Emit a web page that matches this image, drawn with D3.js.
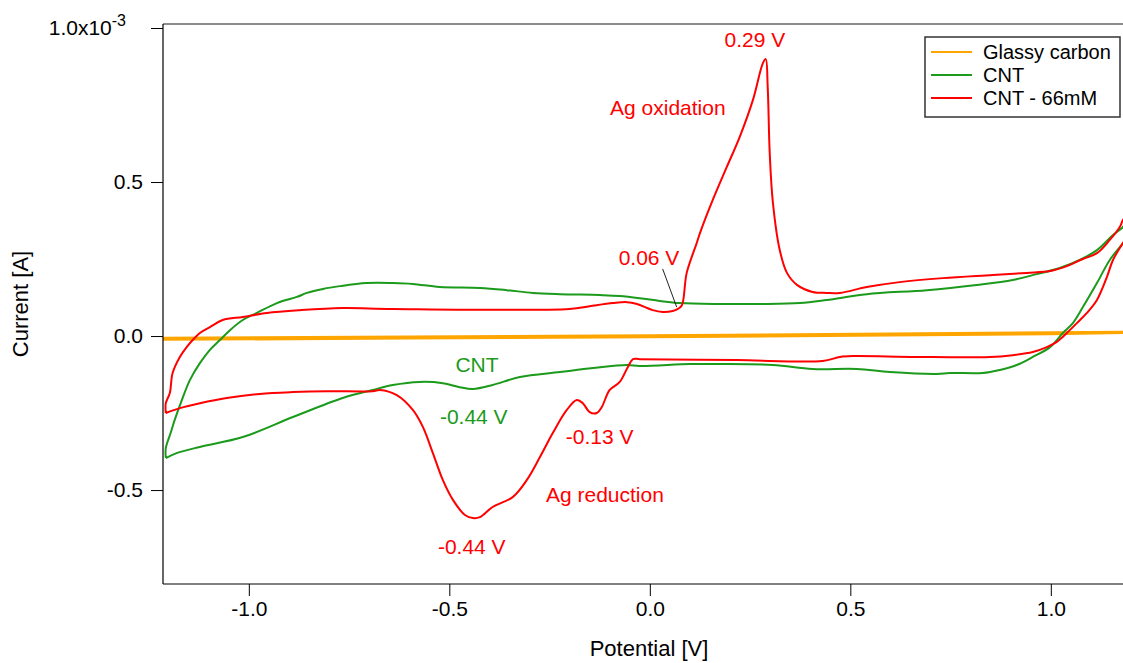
<!DOCTYPE html>
<html>
<head>
<meta charset="utf-8">
<script src="https://cdn.jsdelivr.net/npm/d3@7"></script>
<style>
  html, body { margin: 0; padding: 0; background: #fff; }
  svg { display: block; font-family: "Liberation Sans", Arial, sans-serif; }
</style>
</head>
<body>
<svg id="chart" width="1123" height="663"></svg>
<script>
// Cyclic voltammograms: potential [V] vs current [10^-3 A]
const glassyCarbon = [
  [-1.214, -0.012], [-0.6, -0.008], [0.0, -0.004], [0.6, 0.002], [1.0, 0.006], [1.19, 0.010],
  [1.19, 0.014], [0.6, 0.008], [0.0, 0.002], [-0.6, -0.002], [-1.214, -0.006]
];

const cnt = [
  [-1.207, -0.396], [-1.207, -0.364], [-1.195, -0.315], [-1.185, -0.273], [-1.167, -0.208],
  [-1.147, -0.143], [-1.122, -0.088], [-1.097, -0.045], [-1.072, -0.013], [-1.047, 0.019],
  [-1.015, 0.052], [-0.980, 0.075], [-0.930, 0.107], [-0.880, 0.127], [-0.855, 0.140],
  [-0.815, 0.153], [-0.773, 0.162], [-0.706, 0.172], [-0.641, 0.172], [-0.591, 0.169],
  [-0.524, 0.159], [-0.424, 0.156], [-0.357, 0.149], [-0.292, 0.140], [-0.224, 0.136],
  [-0.125, 0.133], [-0.075, 0.130], [-0.025, 0.123], [0.025, 0.114], [0.075, 0.107],
  [0.175, 0.104], [0.274, 0.104], [0.374, 0.107], [0.441, 0.117], [0.541, 0.136],
  [0.691, 0.149], [0.815, 0.166], [0.905, 0.182], [0.965, 0.201], [1.022, 0.221],
  [1.072, 0.247], [1.115, 0.279], [1.155, 0.328], [1.180, 0.354], [1.195, 0.385],
  [1.195, 0.330], [1.180, 0.302], [1.147, 0.247], [1.115, 0.172], [1.080, 0.094],
  [1.055, 0.042], [1.030, 0.010], [0.998, -0.036], [0.955, -0.068], [0.915, -0.094],
  [0.873, -0.110], [0.830, -0.120], [0.748, -0.120], [0.716, -0.123], [0.599, -0.117],
  [0.516, -0.107], [0.406, -0.107], [0.307, -0.094], [0.167, -0.091], [0.100, -0.091],
  [-0.025, -0.097], [-0.057, -0.094], [-0.142, -0.104], [-0.224, -0.117], [-0.324, -0.133],
  [-0.392, -0.159], [-0.441, -0.172], [-0.474, -0.166], [-0.516, -0.153], [-0.574, -0.149],
  [-0.641, -0.159], [-0.691, -0.175], [-0.766, -0.201], [-0.890, -0.263], [-1.015, -0.328],
  [-1.122, -0.360], [-1.180, -0.380], [-1.207, -0.396]
];

const cntAg = [
  [-1.207, -0.250], [-1.207, -0.218], [-1.197, -0.185], [-1.190, -0.120], [-1.172, -0.068],
  [-1.155, -0.036], [-1.140, -0.013], [-1.122, 0.010], [-1.097, 0.029], [-1.065, 0.052],
  [-1.015, 0.062], [-0.955, 0.075], [-0.873, 0.084], [-0.766, 0.091], [-0.641, 0.088],
  [-0.200, 0.088], [-0.150, 0.097], [-0.092, 0.107], [-0.057, 0.110], [-0.032, 0.104],
  [-0.007, 0.091], [0.007, 0.084], [0.032, 0.078], [0.057, 0.081], [0.070, 0.088],
  [0.080, 0.100], [0.092, 0.205], [0.117, 0.302], [0.125, 0.334], [0.157, 0.442],
  [0.192, 0.549], [0.224, 0.646], [0.257, 0.766], [0.282, 0.886], [0.289, 0.899],
  [0.294, 0.808], [0.299, 0.594], [0.307, 0.432], [0.324, 0.279], [0.342, 0.205],
  [0.367, 0.166], [0.406, 0.143], [0.441, 0.140], [0.474, 0.140], [0.541, 0.159],
  [0.623, 0.175], [0.731, 0.188], [0.855, 0.198], [0.940, 0.205], [0.998, 0.211],
  [1.040, 0.227], [1.080, 0.250], [1.115, 0.269], [1.147, 0.312], [1.172, 0.354],
  [1.180, 0.377], [1.195, 0.400],
  [1.195, 0.330], [1.180, 0.302], [1.155, 0.247], [1.140, 0.192], [1.115, 0.117],
  [1.090, 0.075], [1.065, 0.042], [1.040, 0.010], [1.015, -0.019], [0.990, -0.036],
  [0.955, -0.052], [0.905, -0.062], [0.848, -0.068], [0.666, -0.068], [0.506, -0.065],
  [0.474, -0.068], [0.431, -0.081], [0.217, -0.078], [-0.025, -0.075], [-0.042, -0.075],
  [-0.055, -0.101], [-0.075, -0.149], [-0.100, -0.175], [-0.120, -0.231], [-0.132, -0.250],
  [-0.150, -0.247], [-0.167, -0.218], [-0.182, -0.208], [-0.207, -0.240], [-0.242, -0.315],
  [-0.274, -0.393], [-0.307, -0.468], [-0.342, -0.523], [-0.392, -0.555], [-0.424, -0.588],
  [-0.441, -0.591], [-0.461, -0.581], [-0.491, -0.532], [-0.516, -0.468], [-0.541, -0.380],
  [-0.566, -0.295], [-0.591, -0.240], [-0.631, -0.192], [-0.673, -0.175], [-0.691, -0.179],
  [-0.805, -0.179], [-0.890, -0.182], [-0.973, -0.188], [-1.055, -0.201], [-1.122, -0.218],
  [-1.172, -0.234], [-1.207, -0.250]
];

const seriesNames = ["Glassy carbon", "CNT", "CNT - 66mM"];
const seriesColors = ["#ffa500", "#1b9a1b", "#ff0000"];

const xTicks = [-1.0, -0.5, 0.0, 0.5, 1.0];
const xTickLabels = ["-1.0", "-0.5", "0.0", "0.5", "1.0"];
const yTicks = [-0.5, 0.0, 0.5, 1.0];
const yTickLabels = ["-0.5", "0.0", "0.5", "1.0x10"];

// Peak annotations: [potential, current, text, series index]
const annotations = [
  [0.262, 0.961, "0.29 V", 2],
  [0.045, 0.740, "Ag oxidation", 2],
  [-0.002, 0.256, "0.06 V", 2],
  [-0.431, -0.094, "CNT", 1],
  [-0.439, -0.263, "-0.44 V", 1],
  [-0.125, -0.328, "-0.13 V", 2],
  [-0.112, -0.516, "Ag reduction", 2],
  [-0.444, -0.685, "-0.44 V", 2]
];
// Leader from the "0.06 V" label to the onset of the oxidation wave
const leader = [[0.032, 0.218], [0.067, 0.094]];

const svg = d3.select("#chart");
const plotLeft = 163, plotRight = 1123, plotTop = 24, plotBottom = 584;
const labelSize = 21;

const x = d3.scaleLinear().domain([-1.214, 1.18]).range([plotLeft, plotRight]);
const y = d3.scaleLinear().domain([-0.805, 1.013]).range([plotBottom, plotTop]);

svg.append("defs").append("clipPath").attr("id", "plot-clip")
  .append("rect").attr("x", plotLeft).attr("y", plotTop)
  .attr("width", plotRight - plotLeft).attr("height", plotBottom - plotTop);

const smoothLine = d3.line()
  .x(d => x(d[0])).y(d => y(d[1]))
  .curve(d3.curveCatmullRom.alpha(0.5));
const straightLine = d3.line().x(d => x(d[0])).y(d => y(d[1]));

const plot = svg.append("g").attr("clip-path", "url(#plot-clip)");
[glassyCarbon, cnt, cntAg].forEach((data, i) => {
  plot.append("path")
    .datum(data)
    .attr("d", i === 0 ? straightLine : smoothLine)
    .attr("fill", "none")
    .attr("stroke", seriesColors[i])
    .attr("stroke-width", i === 0 ? 2.2 : 2)
    .attr("stroke-linejoin", "round");
});

// Frame
svg.append("line").attr("x1", plotLeft).attr("x2", plotRight).attr("y1", plotTop).attr("y2", plotTop)
  .attr("stroke", "#666").attr("stroke-width", 1.5);
svg.append("line").attr("x1", plotLeft).attr("x2", plotRight).attr("y1", plotBottom).attr("y2", plotBottom)
  .attr("stroke", "#555").attr("stroke-width", 1.5);

// Axes
const xAxis = svg.append("g").attr("transform", `translate(0,${plotBottom})`)
  .call(d3.axisBottom(x).tickValues(xTicks).tickSize(12).tickPadding(5)
    .tickFormat((d, i) => xTickLabels[i]));
xAxis.select(".domain").remove();
xAxis.selectAll(".tick line").attr("stroke", "#000");
xAxis.selectAll(".tick text").attr("font-size", labelSize).attr("fill", "#000")
  .attr("font-family", "Liberation Sans, Arial, sans-serif");

const yAxis = svg.append("g").attr("transform", `translate(${plotLeft},0)`)
  .call(d3.axisLeft(y).tickValues(yTicks).tickSize(12).tickPadding(8)
    .tickFormat((d, i) => yTickLabels[i]));
yAxis.select(".domain").attr("stroke", "#000").attr("stroke-width", 1.2)
  .attr("d", `M0,${plotTop}V${plotBottom}`);
yAxis.selectAll(".tick line").attr("stroke", "#000");
yAxis.selectAll(".tick text").attr("font-size", labelSize).attr("fill", "#000")
  .attr("font-family", "Liberation Sans, Arial, sans-serif");
// exponent on the top tick
yAxis.selectAll(".tick text").filter((d) => d === 1.0)
  .attr("dx", "-17")
  .append("tspan").attr("dy", "-9").attr("font-size", 16).text("-3");

svg.append("text")
  .attr("x", (plotLeft + plotRight) / 2 + 6).attr("y", 656)
  .attr("text-anchor", "middle").attr("font-size", 22).text("Potential [V]");
svg.append("text")
  .attr("transform", `translate(28,${(plotTop + plotBottom) / 2}) rotate(-90)`)
  .attr("text-anchor", "middle").attr("font-size", 22).text("Current [A]");

// Annotations
svg.append("line")
  .attr("x1", x(leader[0][0])).attr("y1", y(leader[0][1]))
  .attr("x2", x(leader[1][0])).attr("y2", y(leader[1][1]))
  .attr("stroke", "#222").attr("stroke-width", 1);
svg.selectAll("text.annot").data(annotations).enter().append("text")
  .attr("class", "annot")
  .attr("x", d => x(d[0])).attr("y", d => y(d[1]))
  .attr("dy", "0.35em")
  .attr("text-anchor", "middle")
  .attr("font-size", labelSize)
  .attr("fill", d => seriesColors[d[3]])
  .text(d => d[2]);

// Legend
const legend = svg.append("g").attr("transform", "translate(925,37)");
legend.append("rect").attr("width", 195).attr("height", 80)
  .attr("fill", "#fff").attr("stroke", "#333").attr("stroke-width", 1.5);
seriesNames.forEach((name, i) => {
  const ly = 15 + i * 23;
  legend.append("line").attr("x1", 6).attr("x2", 47).attr("y1", ly).attr("y2", ly)
    .attr("stroke", seriesColors[i]).attr("stroke-width", 2);
  legend.append("text").attr("x", 58).attr("y", ly).attr("dy", "0.35em")
    .attr("font-size", 20).text(name);
});
</script>
</body>
</html>
